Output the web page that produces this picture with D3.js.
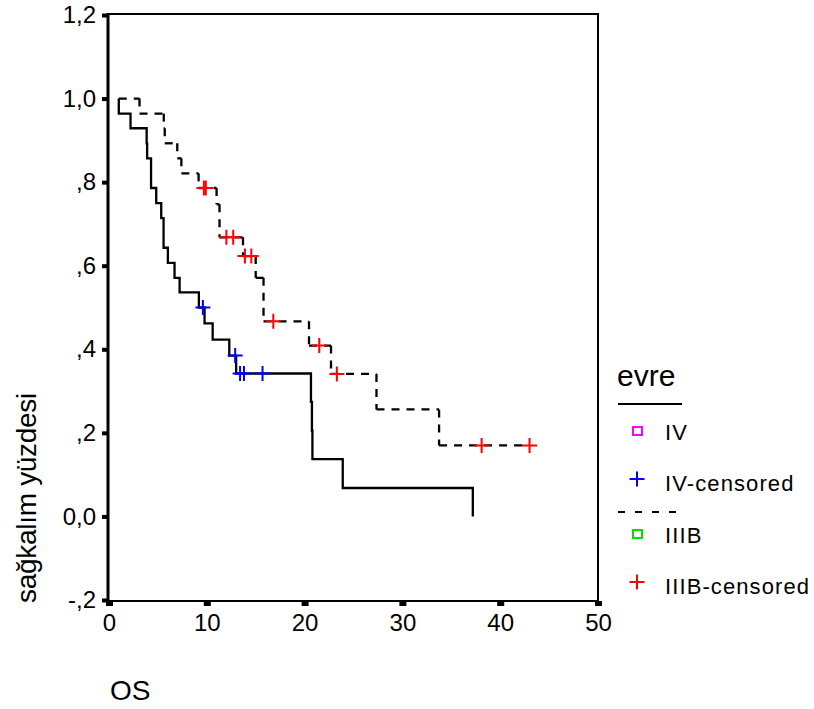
<!DOCTYPE html>
<html lang="tr">
<head>
<meta charset="UTF-8">
<title>Sağkalım - evre</title>
<script src="https://d3js.org/d3.v7.min.js"></script>
<style>
  body { margin: 0; background: #fff; }
  svg text { font-family: "Liberation Sans", Arial, sans-serif; fill: #000; }
</style>
</head>
<body>
<script>
// evre IV : step times and survival after each step
var ivStart = 1.0;
var ivTimes = [1.0, 2.2, 3.85, 3.9, 4.3, 4.83, 5.34, 5.58, 6.02, 6.70, 7.22, 9.19, 9.77, 10.6, 12.3, 13.0, 20.65, 20.75, 20.8, 23.9, 37.2];
var ivSurv  = [0.964, 0.929, 0.893, 0.857, 0.786, 0.750, 0.714, 0.643, 0.607, 0.571, 0.536, 0.500, 0.462, 0.423, 0.385, 0.342, 0.274, 0.205, 0.137, 0.068, 0.000];
var ivCensorTimes = [9.6, 12.9, 13.4, 13.8, 15.7];
var ivCensorSurv  = [0.500, 0.385, 0.342, 0.342, 0.342];

// evre IIIB
var iiibStart = 1.0;
var iiibTimes = [3.12, 5.6, 5.7, 6.98, 7.4, 9.16, 11.0, 11.3, 13.7, 15.0, 15.8, 20.45, 22.7, 27.35, 33.75];
var iiibSurv  = [0.964, 0.929, 0.893, 0.857, 0.821, 0.786, 0.747, 0.668, 0.623, 0.571, 0.467, 0.409, 0.341, 0.256, 0.170];
var iiibCensorTimes = [9.7, 9.9, 12.0, 12.7, 13.9, 14.55, 16.8, 21.5, 23.3, 38.1, 43.0];
var iiibCensorSurv  = [0.786, 0.786, 0.668, 0.668, 0.623, 0.623, 0.467, 0.409, 0.341, 0.170, 0.170];
var iiibEnd = 43.0;

// axes
var xTicks = [0, 10, 20, 30, 40, 50];
var yTicks = [-0.2, 0, 0.2, 0.4, 0.6, 0.8, 1.0, 1.2];
var yTickLabels = ["-,2", "0,0", ",2", ",4", ",6", ",8", "1,0", "1,2"];
var xTitle = "OS";
var yTitle = "sağkalım yüzdesi";
var legendTitle = "evre";
var legendLabels = ["IV", "IV-censored", "IIIB", "IIIB-censored"];

var svgWidth = 814, svgHeight = 709;
var fontFam = '"Liberation Sans", Arial, sans-serif';

var svg = d3.select("body").append("svg")
    .attr("width", svgWidth)
    .attr("height", svgHeight);

var x = d3.scaleLinear().domain([0, 50]).range([109, 598]);
var y = d3.scaleLinear().domain([-0.2, 1.2]).range([600, 15]);

// frame
svg.append("rect")
    .attr("x", 108).attr("y", 14)
    .attr("width", 490).attr("height", 587)
    .attr("fill", "none").attr("stroke", "#000").attr("stroke-width", 2);
svg.append("line")
    .attr("x1", 108).attr("x2", 108).attr("y1", 13).attr("y2", 602)
    .attr("stroke", "#000").attr("stroke-width", 3);

// y axis
var gy = svg.append("g")
    .attr("transform", "translate(107,0)")
    .call(d3.axisLeft(y).tickValues(yTicks)
        .tickFormat(function(d, i) { return yTickLabels[i]; })
        .tickSize(5).tickPadding(6));
gy.select(".domain").remove();
gy.selectAll(".tick line").attr("stroke-width", 4);
gy.selectAll(".tick text").attr("font-size", 24).attr("font-family", fontFam);

// x axis
var gx = svg.append("g")
    .attr("transform", "translate(0,601)")
    .call(d3.axisBottom(x).tickValues(xTicks).tickSize(5).tickPadding(8));
gx.select(".domain").remove();
gx.selectAll(".tick line").attr("stroke-width", 7);
gx.selectAll(".tick text").attr("font-size", 24).attr("font-family", fontFam);

// titles
svg.append("text")
    .attr("x", 110).attr("y", 700)
    .attr("font-size", 28)
    .text(xTitle);
svg.append("text")
    .attr("transform", "translate(36,498) rotate(-90)")
    .attr("text-anchor", "middle")
    .attr("font-size", 28)
    .attr("letter-spacing", -0.3)
    .text(yTitle);

// step points
function stepPoints(start, times, surv, end) {
    var pts = [[start, 1]];
    times.forEach(function(t, i) { pts.push([t, surv[i]]); });
    if (end != null) pts.push([end, surv[surv.length - 1]]);
    return pts;
}

var stepLine = d3.line()
    .x(function(d) { return x(d[0]); })
    .y(function(d) { return y(d[1]); })
    .curve(d3.curveStepAfter);

// IV solid
svg.append("path")
    .datum(stepPoints(ivStart, ivTimes, ivSurv))
    .attr("d", stepLine)
    .attr("fill", "none").attr("stroke", "#000").attr("stroke-width", 2.3);

// IIIB dashed, each segment starts its own dash
var pts = stepPoints(iiibStart, iiibTimes, iiibSurv, iiibEnd);
var segs = [];
for (var i = 0; i < pts.length - 1; i++) {
    segs.push([pts[i][0], pts[i][1], pts[i + 1][0], pts[i][1]]);
    if (pts[i + 1][1] !== pts[i][1])
        segs.push([pts[i + 1][0], pts[i][1], pts[i + 1][0], pts[i + 1][1]]);
}
svg.append("g").selectAll("line")
    .data(segs)
    .enter()
    .append("line")
    .attr("x1", function(d) { return x(d[0]); })
    .attr("y1", function(d) { return y(d[1]); })
    .attr("x2", function(d) { return x(d[2]); })
    .attr("y2", function(d) { return y(d[3]); })
    .attr("stroke", "#000").attr("stroke-width", 2.3)
    .attr("stroke-dasharray", "8,7");

// censor marks
var plus = "M-7.5,0H7.5M0,-7.5V7.5";
function censors(times, surv, color) {
    svg.append("g").selectAll("path")
        .data(times.map(function(t, i) { return [t, surv[i]]; }))
        .enter()
        .append("path")
        .attr("d", plus)
        .attr("transform", function(d) { return "translate(" + x(d[0]) + "," + y(d[1]) + ")"; })
        .attr("stroke", color).attr("stroke-width", 2).attr("fill", "none");
}
censors(ivCensorTimes, ivCensorSurv, "#0000ff");
censors(iiibCensorTimes, iiibCensorSurv, "#ff0000");

// legend
var lg = svg.append("g");
lg.append("text").attr("x", 617).attr("y", 386).attr("font-size", 30).text(legendTitle);
lg.append("line").attr("x1", 618).attr("x2", 682).attr("y1", 404).attr("y2", 404)
    .attr("stroke", "#000").attr("stroke-width", 2);
lg.append("line").attr("x1", 618).attr("x2", 682).attr("y1", 512).attr("y2", 512)
    .attr("stroke", "#000").attr("stroke-width", 2).attr("stroke-dasharray", "7,10");

var rowY = [432, 483, 535, 586];
var rowColor = ["#ff00ff", "#0000ff", "#00dd00", "#ff0000"];
legendLabels.forEach(function(lab, i) {
    if (i % 2 === 0) {
        lg.append("rect").attr("x", 633).attr("y", rowY[i] - 5)
            .attr("width", 9).attr("height", 8)
            .attr("fill", "none").attr("stroke", rowColor[i]).attr("stroke-width", 2);
    } else {
        lg.append("path").attr("d", plus)
            .attr("transform", "translate(637," + (rowY[i] - 4) + ")")
            .attr("stroke", rowColor[i]).attr("stroke-width", 2);
    }
    lg.append("text").attr("x", 665).attr("y", rowY[i] + 8)
        .attr("font-size", 22).attr("letter-spacing", 1.1).text(lab);
});
</script>
</body>
</html>
